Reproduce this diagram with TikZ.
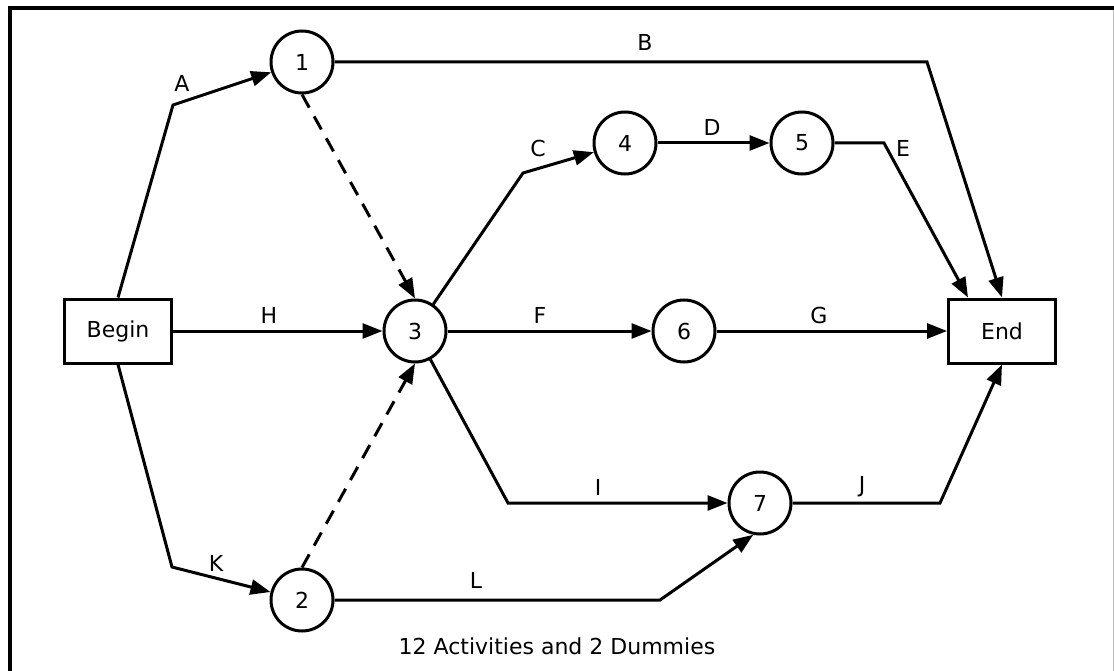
\documentclass[tikz,border=0pt]{standalone}
\usepackage{fontspec}
\setmainfont{DejaVu Sans}
\usetikzlibrary{positioning, arrows.meta}

\begin{document}
\begin{tikzpicture}[x=1pt, y=-1pt, font=\fontsize{22}{26}\selectfont,
    >={Triangle[length=20pt, width=15pt]}, line width=3pt,
    event/.style={circle, draw, minimum size=62pt, inner sep=0pt},
    term/.style={rectangle, draw, minimum width=107pt, minimum height=64pt, inner sep=0pt},
    act/.style={->, line join=miter},
    dummy/.style={->, dash pattern=on 15pt off 10pt},
    lbl/.style={inner sep=0pt}]
  \useasboundingbox (0,0) rectangle (1114,671);
  \draw[line width=4pt] (1114,8) -- (10,8) -- (10,671);
  \draw[black!25, line width=1pt] (1113,10) -- (1113,671);

  \node[term] (begin) at (118,331) {Begin};
  \node[term] (end) at (1002,331) {End};
  \node[event] (n1) at (302,62) {1};
  \node[event] (n2) at (302,600) {2};
  \node[event] (n3) at (415,331) {3};
  \node[event] (n4) at (625,143) {4};
  \node[event] (n5) at (802,143) {5};
  \node[event] (n6) at (684,331) {6};
  \node[event] (n7) at (760,503) {7};

  \coordinate (bA) at (173,105);
  \coordinate (bB) at (927,62);
  \coordinate (bC) at (523,173);
  \coordinate (bE) at (884,143);
  \coordinate (bI) at (508,503);
  \coordinate (bJ) at (940,503);
  \coordinate (bK) at (172,567);
  \coordinate (bL) at (660,600);

  \draw[act] (begin.north) -- (bA) -- (n1);
  \draw[act] (n1) -- (bB) -- (end.north);
  \draw[dummy] (n1.south) -- (n3.north);
  \draw[act] (begin) -- (n3);
  \draw[act] (begin.south) -- (bK) -- (n2);
  \draw[dummy] (n2.north) -- (n3.south);
  \draw[act] (n3) -- (bC) -- (n4);
  \draw[act] (n4) -- (n5);
  \draw[act] (n5) -- (bE) -- ([xshift=-34pt]end.north);
  \draw[act] (n3) -- (n6);
  \draw[act] (n6) -- (end);
  \draw[act] (n3) -- (bI) -- (n7);
  \draw[act] (n2) -- (bL) -- (n7.258);
  \draw[act] (n7) -- (bJ) -- (end.south);

  \node[lbl] (lA) at (182,83) {A};
  \node[lbl] (lB) at (645,42) {B};
  \node[lbl] (lC) at (538,148) {C};
  \node[lbl] (lD) at (712,127) {D};
  \node[lbl] (lE) at (903,148) {E};
  \node[lbl] (lF) at (540,315) {F};
  \node[lbl] (lG) at (819,315) {G};
  \node[lbl] (lH) at (269,315) {H};
  \node[lbl] (lI) at (598,487) {I};
  \node[lbl] (lJ) at (862,487) {J};
  \node[lbl] (lK) at (216,563) {K};
  \node[lbl] (lL) at (476,580) {L};
  \node[lbl] (caption) at (557,646) {12 Activities and 2 Dummies};
\end{tikzpicture}
\end{document}
